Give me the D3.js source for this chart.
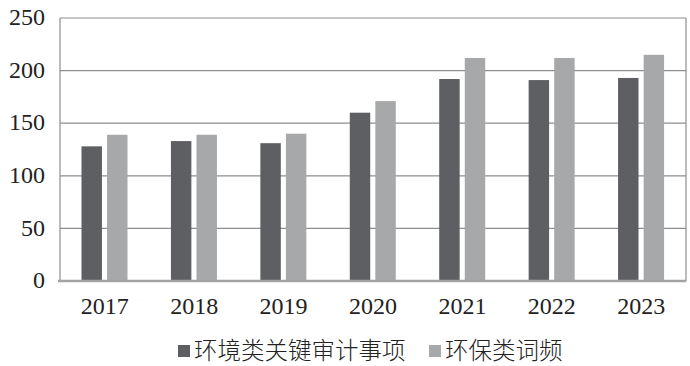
<!DOCTYPE html>
<html>
<head>
<meta charset="utf-8">
<script src="https://cdn.jsdelivr.net/npm/d3@7"></script>
<style>
  html, body { margin: 0; padding: 0; background: #fff; }
  svg { display: block; }
</style>
</head>
<body>
<div id="chart"></div>
<script>
// data
const years = ["2017", "2018", "2019", "2020", "2021", "2022", "2023"];
const seriesNames = ["环境类关键审计事项", "环保类词频"];
const auditItems = [128, 133, 131, 160, 192, 191, 193];
const envWords = [139, 139, 140, 171, 212, 212, 215];
const yTicks = [0, 50, 100, 150, 200, 250];
const colors = ["#5e5f62", "#a7a8aa"];

const width = 690, height = 366;
const plot = { left: 60, right: 686, top: 18, bottom: 281 };

const svg = d3.select("#chart").append("svg")
    .attr("width", width)
    .attr("height", height);

const x = d3.scaleBand().domain(years).range([plot.left, plot.right]).padding(0);
const x1 = d3.scaleBand().domain(seriesNames).range([21.5, 67.5]).paddingInner(0.2);
const y = d3.scaleLinear().domain([0, 250]).range([plot.bottom, plot.top]);

// gridlines
svg.append("g")
    .selectAll("line")
    .data(yTicks.filter(t => t > 0))
    .enter().append("line")
    .attr("x1", plot.left).attr("x2", plot.right)
    .attr("y1", d => y(d)).attr("y2", d => y(d))
    .attr("stroke", "#8e8e8e")
    .attr("stroke-width", 1.2);

// frame sides
svg.append("line")
    .attr("x1", plot.left).attr("x2", plot.left)
    .attr("y1", plot.top).attr("y2", plot.bottom)
    .attr("stroke", "#8e8e8e").attr("stroke-width", 1.2);
svg.append("line")
    .attr("x1", plot.right).attr("x2", plot.right)
    .attr("y1", plot.top).attr("y2", plot.bottom)
    .attr("stroke", "#8e8e8e").attr("stroke-width", 1.2);

// bars
const rows = years.map((yr, i) => ({ year: yr, values: [auditItems[i], envWords[i]] }));
const groups = svg.append("g")
    .selectAll("g")
    .data(rows)
    .enter().append("g")
    .attr("transform", d => `translate(${x(d.year)},0)`);

groups.selectAll("rect")
    .data(d => d.values.map((v, k) => ({ name: seriesNames[k], value: v, k: k })))
    .enter().append("rect")
    .attr("x", d => x1(d.name))
    .attr("width", x1.bandwidth())
    .attr("y", d => y(d.value))
    .attr("height", d => y(0) - y(d.value))
    .attr("fill", d => colors[d.k]);

// bottom axis line
svg.append("line")
    .attr("x1", plot.left - 2).attr("x2", plot.right)
    .attr("y1", y(0)).attr("y2", y(0))
    .attr("stroke", "#a2a2a2").attr("stroke-width", 2.6);

// y labels
svg.append("g")
    .selectAll("text")
    .data(yTicks)
    .enter().append("text")
    .attr("x", 45)
    .attr("y", d => y(d))
    .attr("dy", "0.3em")
    .attr("text-anchor", "end")
    .style("font-family", "'Liberation Serif', 'Times New Roman', serif")
    .style("font-size", "24px")
    .style("fill", "#222")
    .text(d => d);

// x labels
svg.append("g")
    .selectAll("text")
    .data(years)
    .enter().append("text")
    .attr("x", d => x(d) + x.bandwidth() / 2)
    .attr("y", 314)
    .attr("text-anchor", "middle")
    .style("font-family", "'Liberation Serif', 'Times New Roman', serif")
    .style("font-size", "24px")
    .style("fill", "#222")
    .text(d => d);

// legend
const legendX = [178, 429];
const legend = svg.append("g")
    .selectAll("g")
    .data(seriesNames)
    .enter().append("g")
    .attr("transform", (d, i) => `translate(${legendX[i]},0)`);

legend.append("rect")
    .attr("x", 0).attr("y", 345)
    .attr("width", 12).attr("height", 12)
    .attr("fill", (d, i) => colors[i]);

legend.append("text")
    .attr("x", 16)
    .attr("y", 359)
    .style("font-family", "'Noto Sans CJK SC', sans-serif")
    .style("font-size", "23.5px")
    .style("font-weight", "300")
    .style("fill", "#222")
    .text(d => d);
</script>
</body>
</html>
